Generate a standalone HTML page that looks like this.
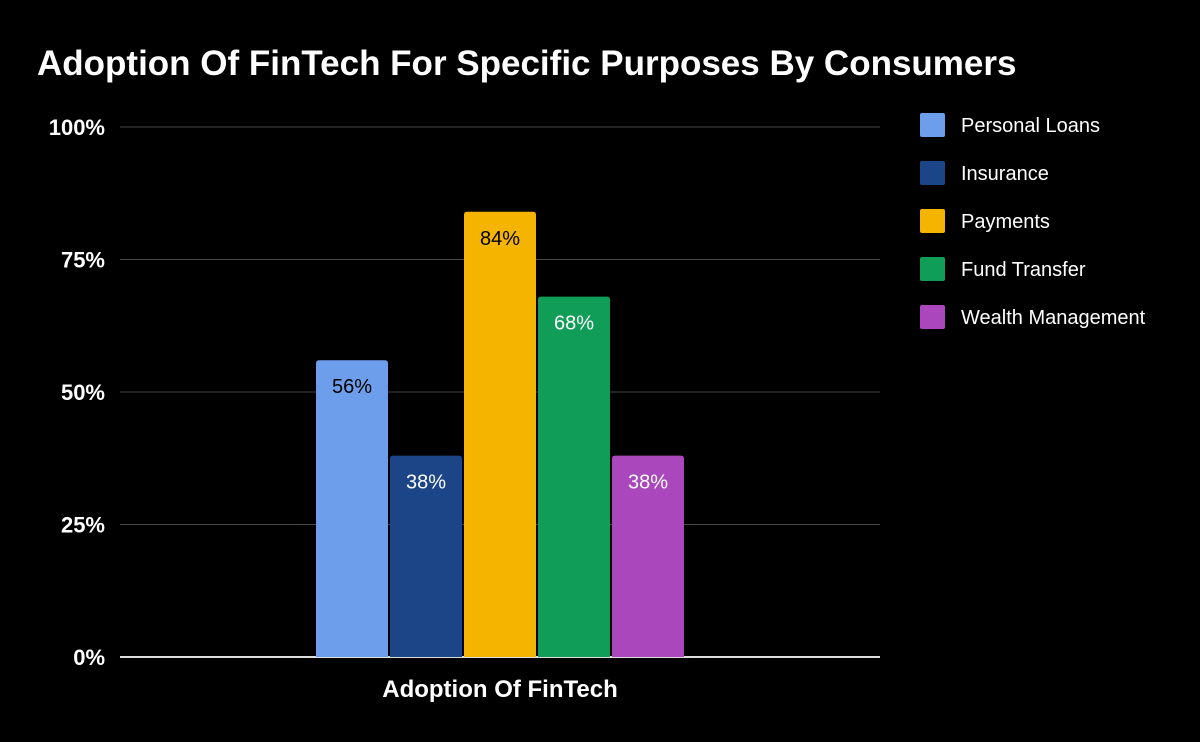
<!DOCTYPE html>
<html><head><meta charset="utf-8"><style>
html,body{margin:0;padding:0;background:#000;}
svg{display:block;font-family:"Liberation Sans",sans-serif;}
</style></head><body>
<svg id="chart" width="1200" height="742" viewBox="0 0 1200 742">
<rect width="1200" height="742" fill="#000"/>
<text x="37" y="75" fill="#fff" font-size="35" font-weight="bold">Adoption Of FinTech For Specific Purposes By Consumers</text>
<g id="grid"></g>
<g id="bars"></g>
<g id="legend"></g>
<text x="500" y="697" fill="#fff" font-size="24" font-weight="bold" text-anchor="middle">Adoption Of FinTech</text>
</svg>
<script>
const series = ["Personal Loans","Insurance","Payments","Fund Transfer","Wealth Management"];
const values = [56,38,84,68,38];
const colors = ["#6d9eeb","#1c4587","#f4b400","#0f9d58","#ab47bc"];
const labelColors = ["#000","#fff","#000","#fff","#fff"];
const ticks = [0,25,50,75,100];
const tickLabels = ["0%","25%","50%","75%","100%"];

const NS="http://www.w3.org/2000/svg";
const x0=120,x1=880,yBase=657,yTop=127;
function y(v){return yBase-(v/100)*(yBase-yTop);}
function mk(tag,attrs,parent){const e=document.createElementNS(NS,tag);for(const k in attrs)e.setAttribute(k,attrs[k]);parent.appendChild(e);return e;}
const grid=document.getElementById('grid');
ticks.forEach((t,i)=>{
  const l=mk('line',{x1:x0,x2:x1,y1:y(t),y2:y(t),stroke:t===0?'#ddd':'#444','stroke-width':t===0?2:1},grid);
  
  
  const tx=mk('text',{x:105,y:y(t)+8,fill:'#fff','font-size':22,'font-weight':'bold','text-anchor':'end'},grid);
  tx.textContent=tickLabels[i];
  
  
});
const bars=document.getElementById('bars');
const bw=72,gap=2,n=values.length;
const groupW=n*bw+(n-1)*gap;
const start=(x0+x1)/2-groupW/2;
values.forEach((v,i)=>{
  const bx=start+i*(bw+gap), by=y(v), h=yBase-by, r=3;
  const p=mk('path',{d:`M${bx},${yBase} V${by+r} Q${bx},${by} ${bx+r},${by} H${bx+bw-r} Q${bx+bw},${by} ${bx+bw},${by+r} V${yBase} Z`,fill:colors[i]},bars);
  
  
  const t=mk('text',{x:bx+bw/2,y:by+33,fill:labelColors[i],'font-size':20,'text-anchor':'middle'},bars);
  t.textContent=v+'%';
  
  
});
const lg=document.getElementById('legend');
series.forEach((s,i)=>{
  const cy=125+i*48;
  const g=mk('g',{},lg);
  
  
  mk('rect',{x:920,y:cy-12,width:25,height:24,rx:2,fill:colors[i]},g);
  const t=mk('text',{x:961,y:cy+7,fill:'#fff','font-size':20},g);
  t.textContent=s;
});
</script>
</body></html>
